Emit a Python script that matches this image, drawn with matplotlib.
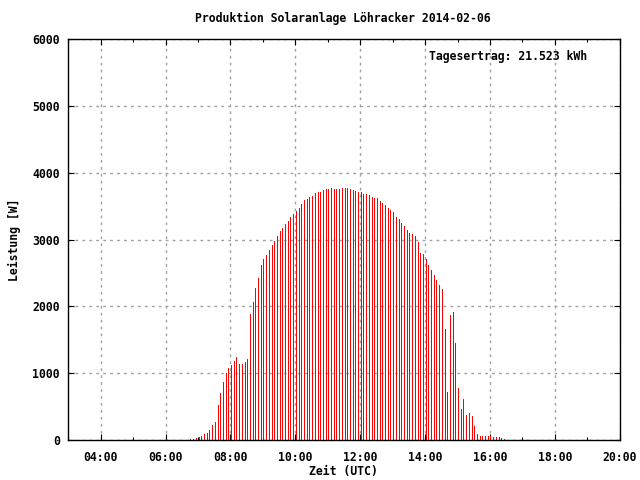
import matplotlib
matplotlib.use("Agg")
import matplotlib.pyplot as plt
import matplotlib.dates as mdates
import pandas as pd

# ---- data ----
title = "Produktion Solaranlage Löhracker 2014-02-06"
day = "2014-02-06"
start_time = "06:46"
interval = "5min"
power_w = [
    20, 20, 35, 50, 65, 95, 110, 155, 230, 275, 530, 705, 870, 1005, 1080, 1125,
    1185, 1245, 1140, 1140, 1170, 1215, 1890, 2065, 2275, 2425, 2620, 2710, 2770,
    2845, 2920, 2980,
    3050, 3125, 3170, 3230, 3275, 3335, 3380, 3425, 3470, 3530, 3590, 3600, 3630,
    3645, 3690, 3705, 3705, 3735, 3750, 3750, 3765, 3750, 3750, 3750, 3765, 3765,
    3765, 3750, 3735, 3720, 3705,
    3705, 3675, 3675, 3660, 3630, 3615, 3615, 3570, 3540, 3510, 3470, 3440, 3410,
    3335, 3305, 3245, 3200, 3140, 3095, 3080, 3050, 2960,
    2805, 2780, 2705, 2615, 2540, 2470, 2395, 2320, 2260, 1660, 720, 1870, 1915,
    1450, 780, 470, 615, 380, 410, 365, 215, 95, 65, 65, 65, 65, 65, 50, 50, 50,
    35, 20,
]
yield_label = "Tagesertrag: 21.523 kWh"
x_label = "Zeit (UTC)"
y_label = "Leistung [W]"
x_start, x_end = "03:00", "20:00"
y_ticks = [0, 1000, 2000, 3000, 4000, 5000, 6000]

times = pd.date_range(f"{day} {start_time}", periods=len(power_w), freq=interval)

plt.rcParams['font.family'] = ['DejaVu Sans Mono']
plt.rcParams['font.weight'] = 'bold'
fs = 8.3

fig = plt.figure(figsize=(6.4, 4.8), dpi=100)
ax = fig.add_axes([68.3/640, 1-440.3/480, (619.7-68.3)/640, (440.3-38.7)/480])

ax.vlines(times.to_pydatetime(), 0, power_w, colors='#ff0000', linewidth=0.5,
          antialiased=False, zorder=3)

ax.set_xlim(pd.Timestamp(f"{day} {x_start}"), pd.Timestamp(f"{day} {x_end}"))
ax.set_ylim(0, 6000)
ax.set_yticks(y_ticks)
ax.xaxis.set_major_locator(mdates.HourLocator(byhour=range(0, 24, 2)))
ax.xaxis.set_minor_locator(mdates.HourLocator())
ax.xaxis.set_major_formatter(mdates.DateFormatter('%H:%M'))

ax.grid(True, which='major', color='#a0a0a0', linestyle=(0, (2, 3)), linewidth=1.0, zorder=1)
ax.tick_params(which='major', direction='in', length=4, width=0.8, top=True, right=True,
               labelsize=fs, pad=8, color='black')
ax.tick_params(which='minor', direction='in', length=2, width=0.8, top=True, right=True)
ax.tick_params(axis='y', which='major', pad=6)
for s in ax.spines.values():
    s.set_linewidth(1.0)
    s.set_zorder(4)
for lab in ax.get_xticklabels() + ax.get_yticklabels():
    lab.set_fontweight('bold')

fig.text(343/640, 1-18/480, title, ha='center', va='center', fontsize=fs, fontweight='bold')
fig.text(14/640, 1-240/480, y_label, ha='center', va='center', rotation=90, fontsize=fs, fontweight='bold')
fig.text(343/640, 1-471/480, x_label, ha='center', va='center', fontsize=fs, fontweight='bold')
ax.text((587-68.3)/551.4, (440.3-56)/401.6, yield_label, transform=ax.transAxes,
        ha='right', va='center', fontsize=fs, fontweight='bold')

fig.savefig("out.png", dpi=100)
